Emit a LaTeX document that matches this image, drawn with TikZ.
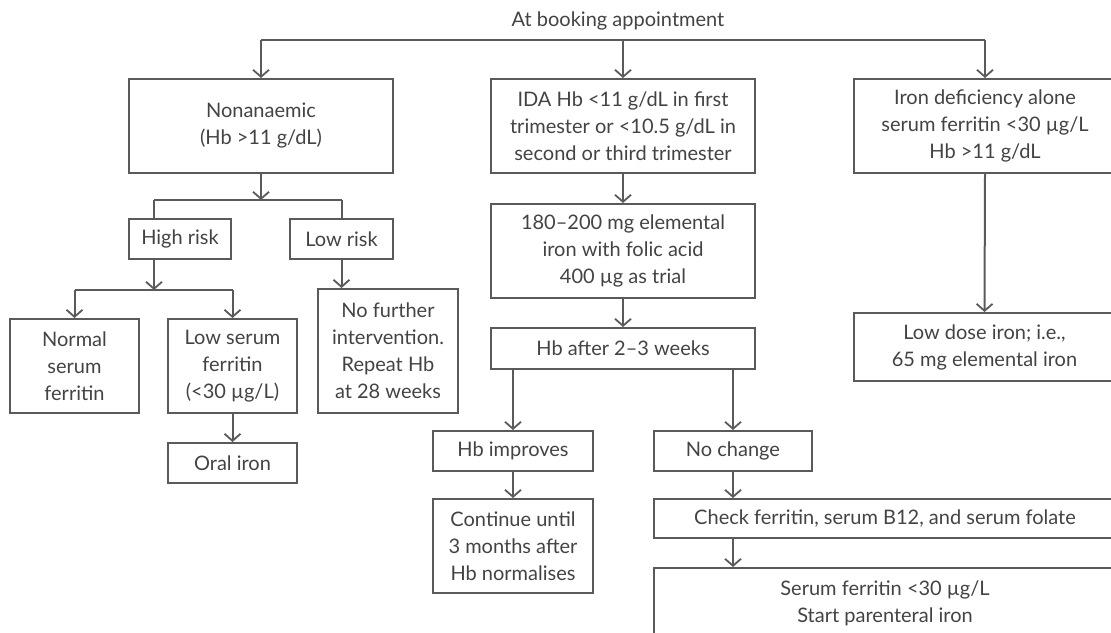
\documentclass[tikz,border=0pt]{standalone}
\usepackage{fontspec}
\setmainfont{Lato}
\usetikzlibrary{arrows.meta}
\definecolor{linegray}{HTML}{5A5A5A}
\definecolor{textgray}{HTML}{434343}
\tikzset{
  box/.style={draw=linegray, line width=2pt, align=center, inner sep=0pt, text=textgray},
  arr/.style={->, draw=linegray, line width=2pt},
  bar/.style={draw=linegray, line width=2pt}
}

\begin{document}
\begin{tikzpicture}[x=1pt, y=-1pt, >={Straight Barb[length=7pt,width=16pt,line width=1.8pt]},
    font=\fontsize{20}{27}\selectfont]
        \useasboundingbox (0,0) rectangle (1111,632);
        % ==== TOP ====
        \node[text=textgray] (booking) at (618,21) {At booking appointment};
        \node[box, minimum width=264, minimum height=94] (nonan) at (261,126) {Nonanaemic\\(Hb >11 g/dL)};
        \node[box, minimum width=264, minimum height=94] (ida) at (623,126) {IDA Hb <11 g/dL in first\\trimester or <10.5 g/dL in\\second or third trimester};
        \node[box, minimum width=262, minimum height=94] (irondef) at (985,126) {Iron deficiency alone\\serum ferritin <30 µg/L\\Hb >11 g/dL};
        \coordinate (barL) at (261,40);
        \coordinate (barR) at (985,40);
        \draw[bar] (barL) -- (barR);
        \draw[arr] (barL) -- (nonan.north);
        \draw[arr] (ida.north |- barL) -- (ida.north);
        \draw[arr] (barR) -- (irondef.north);

        % ==== LEFT BRANCH ====
        \node[box, minimum width=102, minimum height=40] (high) at (180,239) {High risk};
        \node[box, minimum width=103, minimum height=40] (low) at (341.5,239) {Low risk};
        \node[box, minimum width=129, minimum height=94] (normal) at (74.5,366) {Normal\\serum\\ferritin};
        \node[box, minimum width=129, minimum height=94] (lowferr) at (232.5,366) {Low serum\\ferritin\\(<30 µg/L)};
        \node[box, minimum width=129, minimum height=40] (oral) at (232.5,463) {Oral iron};
        \node[box, minimum width=140, minimum height=124] (nofurther) at (388,351) {No further\\intervention.\\Repeat Hb\\at 28 weeks};
        \coordinate (riskL) at (154,200);
        \coordinate (riskR) at (341.5,200);
        \draw[arr] (nonan.south) -- (nonan.south |- riskL);
        \draw[bar] (riskL) -- (riskR);
        \draw[bar] (riskL) -- (riskL |- high.north);
        \draw[bar] (riskR) -- (low.north);
        \coordinate (ferrL) at (74.5,290);
        \coordinate (ferrR) at (232.5,290);
        \draw[arr] (riskL |- high.south) -- (riskL |- ferrL);
        \draw[bar] (ferrL) -- (ferrR);
        \draw[arr] (ferrL) -- (normal.north);
        \draw[arr] (ferrR) -- (lowferr.north);
        \draw[arr] (lowferr.south) -- (oral.north);
        \draw[arr] (low.south) -- (low.south |- nofurther.north);

        % ==== MIDDLE BRANCH ====
        \node[box, minimum width=264, minimum height=94] (trial) at (623,251) {180–200 mg elemental\\iron with folic acid\\400 µg as trial};
        \node[box, minimum width=264, minimum height=41] (hbafter) at (623,348.5) {Hb after 2–3 weeks};
        \node[box, minimum width=160, minimum height=40] (improves) at (513,451) {Hb improves};
        \node[box, minimum width=158, minimum height=40] (nochange) at (733,451) {No change};
        \node[box, minimum width=160, minimum height=94] (continue) at (513,546) {Continue until\\3 months after\\Hb normalises};
        \node[box, minimum width=462, minimum height=39] (check) at (885,518.5) {Check ferritin, serum B12, and serum folate};
        \node[box, minimum width=462, minimum height=70] (serum) at (885,603) {Serum ferritin <30 µg/L\\Start parenteral iron};
        \draw[arr] (ida.south) -- (trial.north);
        \draw[arr] (trial.south) -- (hbafter.north);
        \draw[arr] (improves.north |- hbafter.south) -- (improves.north);
        \draw[arr] (nochange.north |- hbafter.south) -- (nochange.north);
        \draw[arr] (improves.south) -- (continue.north);
        \draw[arr] (nochange.south) -- (nochange.south |- check.north);
        \draw[arr] (nochange.south |- check.south) -- (nochange.south |- serum.north);

        % ==== RIGHT BRANCH ====
        \node[box, minimum width=261, minimum height=68] (lowdose) at (984.5,347) {Low dose iron; i.e.,\\65 mg elemental iron};
        \draw[arr] (irondef.south) -- (lowdose.north);
\end{tikzpicture}
\end{document}
